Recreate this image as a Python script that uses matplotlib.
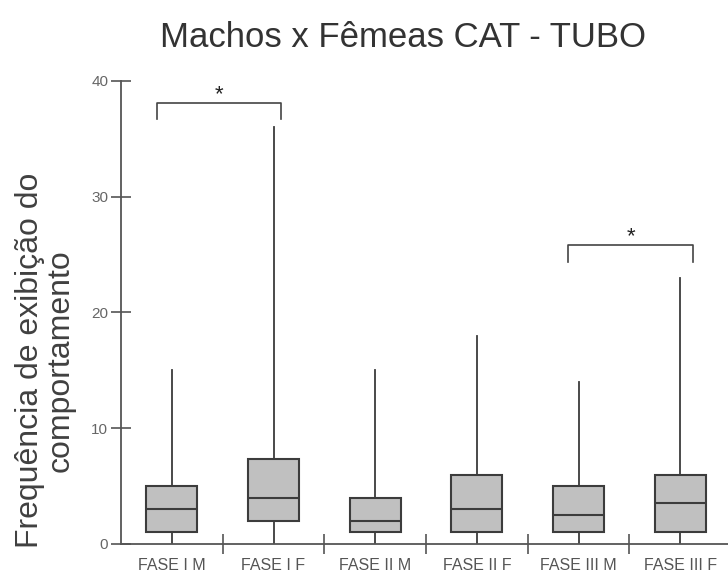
import matplotlib
matplotlib.use("Agg")
import matplotlib.pyplot as plt

categories = ["FASE I M", "FASE I F", "FASE II M", "FASE II F", "FASE III M", "FASE III F"]
whisker_low = [0, 0, 0, 0, 0, 0]
q1 = [1, 2, 1, 1, 1, 1]
median = [3, 4, 2, 3, 2.5, 3.5]
q3 = [5, 7.3, 4, 6, 5, 6]
whisker_high = [15, 36, 15, 18, 14, 23]
y_ticks = [0, 10, 20, 30, 40]
# significance brackets: (start, end, bar height, leg bottom)
brackets = [(0.85, 2.07, 38.1, 36.7), (4.9, 6.13, 25.8, 24.4)]

plt.rcParams['font.family'] = ['Liberation Sans', 'DejaVu Sans']

fig = plt.figure(figsize=(7.28, 5.72), dpi=100)
ax = fig.add_axes([0.1662, 0.049, 0.838, 0.8094])

stats = []
for i, c in enumerate(categories):
    stats.append(dict(label=c, whislo=whisker_low[i], q1=q1[i], med=median[i],
                      q3=q3[i], whishi=whisker_high[i], fliers=[]))

edge = "#3c3c3c"
positions = list(range(1, len(categories) + 1))
ax.bxp(stats, positions=positions, widths=0.5, patch_artist=True, showcaps=False,
       boxprops=dict(facecolor="#c0c0c0", edgecolor=edge, linewidth=1.5),
       medianprops=dict(color=edge, linewidth=1.5),
       whiskerprops=dict(color=edge, linewidth=1.3))

ax.set_xlim(0.5, 6.5)
ax.set_ylim(0, 40)
for s in ["top", "right"]:
    ax.spines[s].set_visible(False)
axis_col = "#555555"
ax.spines["left"].set_color(axis_col)
ax.spines["bottom"].set_color(axis_col)
ax.spines["left"].set_linewidth(1.3)
ax.spines["bottom"].set_linewidth(1.3)

ax.set_yticks(y_ticks)
ax.tick_params(axis="y", direction="inout", length=14.5, width=1.2, color=axis_col,
               labelsize=11, labelcolor="#666666", pad=2)

# category separators as major ticks, labels as minor ticks
ax.set_xticks([p + 0.5 for p in positions[:-1]])
ax.set_xticklabels([])
ax.tick_params(axis="x", which="major", direction="inout", length=13.7, width=1.2, color=axis_col)
ax.set_xticks(positions, minor=True)
ax.set_xticklabels(categories, minor=True, fontsize=11.5, color="#555555")
ax.tick_params(axis="x", which="minor", length=0, pad=10)

for (x0, x1, yb, yl) in brackets:
    ax.plot([x0, x0, x1, x1], [yl, yb, yb, yl], color="#444444", lw=1.2, clip_on=False)
    ax.text((x0 + x1) / 2, yb - 0.2, "*", ha="center", va="bottom", fontsize=16,
            color="#222222", clip_on=False)

fig.text(0.553, 0.934, "Machos x Fêmeas CAT - TUBO", ha="center", va="center",
         fontsize=25, color="#333333")
fig.text(0.062, 0.37, "Frequência de exibição do\ncomportamento", ha="center", va="center",
         rotation=90, fontsize=23, color="#404040", linespacing=1.0)

fig.savefig("out.png", dpi=100)
